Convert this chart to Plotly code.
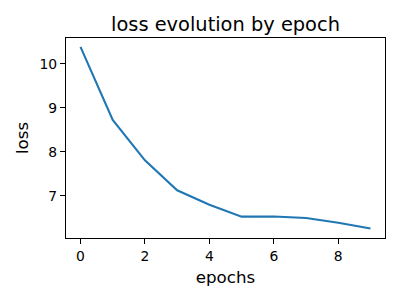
import plotly.graph_objects as go

epochs = [0, 1, 2, 3, 4, 5, 6, 7, 8, 9]
loss = [10.39, 8.73, 7.81, 7.13, 6.80, 6.53, 6.535, 6.50, 6.39, 6.26]

fig = go.Figure()
fig.add_trace(go.Scatter(x=epochs, y=loss, mode="lines",
                         line=dict(color="#1f77b4", width=2.1)))

font = "DejaVu Sans"
fig.update_layout(
    width=400, height=300,
    margin=dict(l=66, r=15, t=38, b=62),
    paper_bgcolor="white", plot_bgcolor="white",
    showlegend=False,
    font=dict(family=font, color="black", size=13.9),
    title=dict(text="loss evolution by epoch", x=(66 + 385) / 2 / 400, xanchor="center",
               y=1 - 24.5 / 300, yanchor="middle", yref="container",
               font=dict(family=font, size=19.4, color="black")),
)
fig.update_xaxes(
    range=[-0.45, 9.45], tickvals=[0, 2, 4, 6, 8], ticktext=["0", "2", "4", "6", "8"],
    showgrid=False, zeroline=False,
    showline=True, mirror=True, linecolor="black", linewidth=1.1,
    ticks="outside", ticklen=5, tickwidth=1.1, tickcolor="black",
    title=dict(text="epochs", font=dict(family=font, size=16.7), standoff=8),
)
fig.update_yaxes(
    range=[6.045, 10.59], tickvals=[7, 8, 9, 10], ticktext=["7", "8", "9", "10"],
    showgrid=False, zeroline=False,
    showline=True, mirror=True, linecolor="black", linewidth=1.1,
    ticks="outside", ticklen=5, tickwidth=1.1, tickcolor="black",
    title=dict(text="loss", font=dict(family=font, size=16.7), standoff=6),
)
fig.write_html("out.html")
